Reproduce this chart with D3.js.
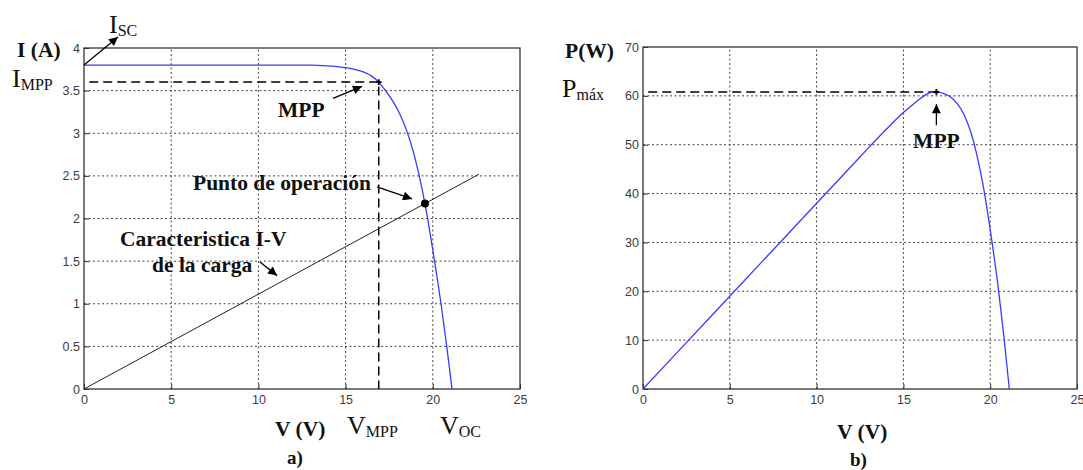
<!DOCTYPE html>
<html>
<head>
<meta charset="utf-8">
<script src="https://cdn.jsdelivr.net/npm/d3@7"></script>
<style>
  html, body { margin: 0; padding: 0; background: #fff; }
  svg { display: block; }
  .tick-lbl { font-family: "Liberation Sans", Arial, sans-serif; font-size: 12.5px; fill: #3c3c3c; }
  .lbl { font-family: "Liberation Serif", "Times New Roman", serif; fill: #111; }
</style>
</head>
<body>
<svg id="fig" width="1083" height="470"></svg>
<script>
// ---- I-V characteristic of the PV module ----
const ivVolts = [0, 4, 8, 12, 13, 14, 15, 15.5, 16, 16.5, 16.9, 17.3, 17.7, 18.1, 18.5, 18.9, 19.2, 19.55, 20.1, 20.47, 20.8, 21.1];
const ivAmps  = [3.80, 3.80, 3.80, 3.80, 3.80, 3.79, 3.77, 3.75, 3.72, 3.67, 3.60, 3.497, 3.379, 3.229, 3.031, 2.77, 2.52, 2.175, 1.50, 1.00, 0.50, 0];

// ---- P-V characteristic ----
const pvVolts = [0, 4, 8, 12, 13, 14, 15, 15.5, 16, 16.5, 16.9, 17.3, 17.7, 18.1, 18.5, 18.9, 19.2, 19.55, 20.1, 20.47, 20.8, 21.1];
const pvWatts = [0, 15.2, 30.4, 45.6, 49.4, 53.1, 56.6, 58.1, 59.5, 60.6, 60.8, 60.5, 59.8, 58.4, 56.1, 52.4, 48.4, 42.5, 30.2, 20.5, 10.4, 0];

// ---- load line (resistive load) and operating point ----
const loadVolts = [0, 22.65];
const loadAmps  = [0, 2.52];
const opPoint = [19.55, 2.175];

// ---- maximum power point ----
const vMpp = 16.9, iMpp = 3.6, pMax = 60.8;

// ---- tick labels ----
const vTicks = [0, 5, 10, 15, 20, 25];
const iTicks = [0, 0.5, 1, 1.5, 2, 2.5, 3, 3.5, 4];
const pTicks = [0, 10, 20, 30, 40, 50, 60, 70];

const svg = d3.select("#fig");

// arrow head
svg.append("defs").append("marker")
  .attr("id", "head").attr("viewBox", "0 0 10 10")
  .attr("refX", 10).attr("refY", 5)
  .attr("markerWidth", 12).attr("markerHeight", 9)
  .attr("markerUnits", "userSpaceOnUse")
  .attr("orient", "auto")
  .append("path").attr("d", "M0,0 L10,5 L0,10 Z").attr("fill", "#000");

function panel(x, y, xTicks, yTicks) {
  const g = svg.append("g");
  const [x0, x1] = x.range(), [y0, y1] = y.range();
  // dotted grid
  g.selectAll(".gx").data(xTicks.slice(1, -1)).join("line")
    .attr("x1", d => x(d)).attr("x2", d => x(d)).attr("y1", y0).attr("y2", y1)
    .attr("stroke", "#444").attr("stroke-width", 1).attr("stroke-dasharray", "2,2.5");
  g.selectAll(".gy").data(yTicks.slice(1, -1)).join("line")
    .attr("y1", d => y(d)).attr("y2", d => y(d)).attr("x1", x0).attr("x2", x1)
    .attr("stroke", "#444").attr("stroke-width", 1).attr("stroke-dasharray", "2,2.5");
  // axes with inward ticks
  const ax = g.append("g").attr("transform", `translate(0,${y0})`)
    .call(d3.axisBottom(x).tickValues(xTicks).tickFormat(d => String(d)).tickSize(-5).tickPadding(6));
  const ay = g.append("g").attr("transform", `translate(${x0},0)`)
    .call(d3.axisLeft(y).tickValues(yTicks).tickFormat(d => String(d)).tickSize(-5).tickPadding(4));
  [ax, ay].forEach(a => {
    a.select(".domain").remove();
    a.selectAll(".tick line").attr("stroke", "#333");
    a.selectAll(".tick text").attr("class", "tick-lbl");
  });
  g.append("rect").attr("x", x0).attr("y", y1).attr("width", x1 - x0).attr("height", y0 - y1)
    .attr("fill", "none").attr("stroke", "#333").attr("stroke-width", 1.3);
  return g;
}

function arrow(g, x1, y1, x2, y2) {
  g.append("line").attr("x1", x1).attr("y1", y1).attr("x2", x2).attr("y2", y2)
    .attr("stroke", "#000").attr("stroke-width", 1.3).attr("marker-end", "url(#head)");
}

function subLabel(g, x, y, main, sub, mainSize, subSize) {
  const t = g.append("text").attr("class", "lbl").attr("x", x).attr("y", y);
  t.append("tspan").attr("font-size", mainSize).text(main);
  t.append("tspan").attr("font-size", subSize).attr("dy", 3).text(sub);
}

function boldLabel(g, x, y, txt, size, anchor) {
  g.append("text").attr("class", "lbl").attr("x", x).attr("y", y)
    .attr("font-size", size).attr("font-weight", "bold")
    .attr("text-anchor", anchor || "start").text(txt);
}

const lineOf = (x, y, xs, ys) => d3.line().curve(d3.curveMonotoneX)
  .x(i => x(xs[i])).y(i => y(ys[i]))(d3.range(xs.length));

// ================= a) I-V curve =================
const xL = d3.scaleLinear().domain([0, 25]).range([84, 520]);
const yL = d3.scaleLinear().domain([0, 4]).range([389, 48]);
const gL = panel(xL, yL, vTicks, iTicks);

// MPP reference lines
gL.append("path")
  .attr("d", d3.line()([[xL(0.3), yL(iMpp)], [xL(vMpp), yL(iMpp)], [xL(vMpp), yL(0)]]))
  .attr("fill", "none").attr("stroke", "#000").attr("stroke-width", 1.5).attr("stroke-dasharray", "9,5");

// load line
gL.append("path")
  .attr("d", d3.line().x(i => xL(loadVolts[i])).y(i => yL(loadAmps[i]))(d3.range(loadVolts.length)))
  .attr("stroke", "#222").attr("stroke-width", 1);

// I-V curve
gL.append("path").attr("d", lineOf(xL, yL, ivVolts, ivAmps))
  .attr("fill", "none").attr("stroke", "#3a3aff").attr("stroke-width", 1.3);

// markers
gL.append("path").attr("d", d3.symbol(d3.symbolCross, 18)())
  .attr("transform", `translate(${xL(vMpp)},${yL(iMpp)})`).attr("fill", "#000");
gL.append("circle").attr("cx", xL(opPoint[0])).attr("cy", yL(opPoint[1])).attr("r", 4).attr("fill", "#000");

// annotations
arrow(gL, xL(0), yL(3.8), xL(1.95), yL(4.13));
arrow(gL, xL(14.28), yL(3.41), xL(15.94), yL(3.55));
arrow(gL, xL(16.8), yL(2.37), xL(18.81), yL(2.23));
arrow(gL, xL(10.09), yL(1.49), xL(11.07), yL(1.33));

boldLabel(gL, 17, 57, "I (A)", 21.5);
subLabel(gL, 109, 33, "I", "SC", 26, 16);
subLabel(gL, 12, 87, "I", "MPP", 26, 16);
boldLabel(gL, 278, 117, "MPP", 21.5);
boldLabel(gL, 193, 190, "Punto de operación", 21.5);
boldLabel(gL, 120, 246, "Caracteristica I-V", 21.5);
boldLabel(gL, 152, 272, "de la carga", 21.5);
boldLabel(gL, 275, 436, "V (V)", 21.5);
subLabel(gL, 347, 434, "V", "MPP", 26, 16);
subLabel(gL, 440, 434, "V", "OC", 26, 16);
boldLabel(gL, 287, 464, "a)", 19);

// ================= b) P-V curve =================
const xR = d3.scaleLinear().domain([0, 25]).range([643, 1077]);
const yR = d3.scaleLinear().domain([0, 70]).range([389, 47]);
const gR = panel(xR, yR, vTicks, pTicks);

gR.append("path")
  .attr("d", d3.line()([[xR(0.3), yR(pMax)], [xR(vMpp), yR(pMax)]]))
  .attr("fill", "none").attr("stroke", "#000").attr("stroke-width", 1.5).attr("stroke-dasharray", "9,5");

gR.append("path").attr("d", lineOf(xR, yR, pvVolts, pvWatts))
  .attr("fill", "none").attr("stroke", "#3a3aff").attr("stroke-width", 1.3);

gR.append("path").attr("d", d3.symbol(d3.symbolCross, 18)())
  .attr("transform", `translate(${xR(vMpp)},${yR(pMax)})`).attr("fill", "#000");

arrow(gR, xR(vMpp), yR(54.0), xR(vMpp), yR(58.3));

boldLabel(gR, 565, 58, "P(W)", 21.5);
subLabel(gR, 562, 97, "P", "máx", 26, 16);
boldLabel(gR, xR(vMpp), 148, "MPP", 21.5, "middle");
boldLabel(gR, 837, 439, "V (V)", 21.5);
boldLabel(gR, 850, 466, "b)", 19);
</script>
</body>
</html>
